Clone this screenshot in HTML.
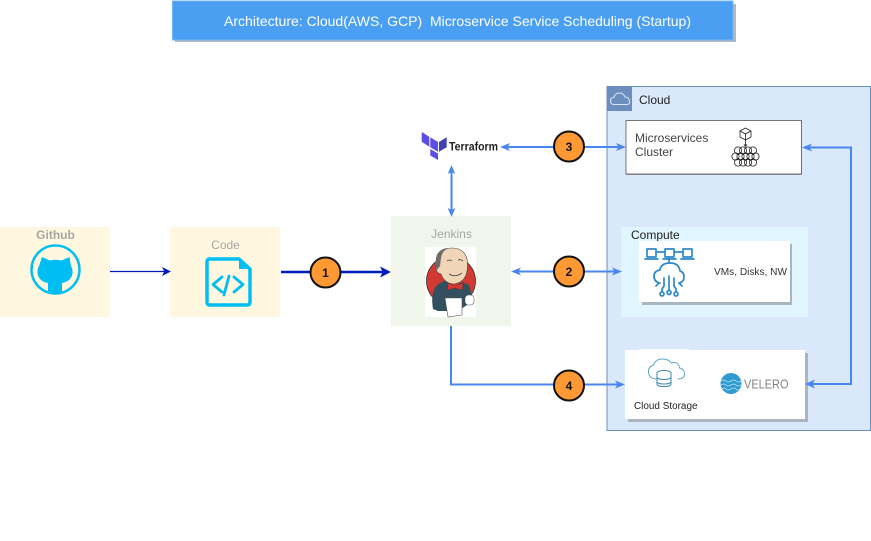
<!DOCTYPE html>
<html>
<head>
<meta charset="utf-8">
<style>
html,body{margin:0;padding:0;background:#fff;width:871px;height:541px;overflow:hidden}
svg{display:block}
text{font-family:"Liberation Sans",sans-serif}
</style>
</head>
<body>
<svg width="871" height="541" viewBox="0 0 871 541" xmlns="http://www.w3.org/2000/svg">
<rect width="871" height="541" fill="#fff"/>

<!-- Title -->
<rect x="175" y="4" width="561" height="38" fill="#b3b9bf"/>
<rect x="172.500" y="1" width="560.500" height="39" fill="#4a9ff3" stroke="#76b5f5" stroke-width="1"/>
<text x="457.500" y="26" font-size="14" fill="#fff" text-anchor="middle" textLength="467" lengthAdjust="spacingAndGlyphs" xml:space="preserve">Architecture: Cloud(AWS, GCP)  Microservice Service Scheduling (Startup)</text>

<!-- Github -->
<rect x="0" y="227" width="110" height="90" fill="#fff7e0"/>
<text x="55.500" y="239" font-size="12" font-weight="bold" fill="#a6a6a6" text-anchor="middle">Github</text>
<circle cx="55.500" cy="269.500" r="24" fill="none" stroke="#00bef2" stroke-width="2.500"/>
<path d="M42 257l8 3.500q5.500-1.500 11.500 0l8-3.500 1.500 9q2 3.500 1.500 7.500-1.500 8-10.500 9.500v10.500h-14v-10.500q-9-1.500-10.500-9.500-.5-4 1.500-7.500z" fill="#00bef2"/>

<!-- Code -->
<rect x="170" y="227" width="110" height="90" fill="#fff7e0"/>
<text x="225.500" y="249" font-size="12" fill="#a6a6a6" text-anchor="middle">Code</text>
<path d="M210 259h29l11 10v33q0 3-3 3h-37q-3 0-3-3v-40q0-3 3-3z" fill="#fff7e0" stroke="#00bef2" stroke-width="3.500" stroke-linejoin="round"/>
<path d="M239 258v11h12z" fill="#00bef2"/>
<path d="M222 277l-9 7.500 9 7.500M234 277l9 7.500-9 7.500M229 276l-5 19" fill="none" stroke="#00bef2" stroke-width="2.800" stroke-linecap="round" stroke-linejoin="round"/>

<!-- Jenkins -->
<rect x="391" y="216" width="120" height="110" fill="#f1f6ec"/>
<text x="451.500" y="238" font-size="12" fill="#a6a6a6" text-anchor="middle">Jenkins</text>
<rect x="425" y="247" width="51" height="70" fill="#fff"/>
<circle cx="451" cy="281" r="24.500" fill="#d33833" stroke="#333" stroke-width="0.800"/>
<path d="M433 309q-3-18 5-25l8-4 8 7 8-5 7 3 3 11-5 9-9 6h-20z" fill="#335061"/>
<path d="M440 258q2-10 12-10 12 0 15 11 1 6 0 12-2 12-14 13-9-1-12-10-5-1-5-6t4-6z" fill="#f0d6b7" stroke="#444" stroke-width="0.600"/>
<path d="M437 270q-3-11 1-17 4-5 10-5-6 3-7 10l-1 8z" fill="#6d6b6d"/>
<path d="M447 261q3-2 5 0M458 260q3-1 5 1M449 274q6 4 13-1" fill="none" stroke="#444" stroke-width="0.800"/>
<path d="M448 283l7 3 8-3-1 7-7-2-7 2z" fill="#d33833" stroke="#7d1f1c" stroke-width="0.400"/>
<path d="M445 298h17v17l-14 2z" fill="#fff" stroke="#555" stroke-width="0.600"/>
<rect x="465" y="295" width="9" height="10" rx="3.500" fill="#fff" stroke="#555" stroke-width="0.600"/>

<!-- Terraform -->
<path d="M421.700 132l7.600 4.700v10l-7.600-5z" fill="#5c4ee5"/>
<path d="M430.300 137.300l7.700 4.700v9.700l-7.700-4.400z" fill="#5c4ee5"/>
<path d="M439 142l7.700-4.700v10l-7.700 4.400z" fill="#4040b2"/>
<path d="M430.300 149l7.700 4.500v6.500l-7.700-4.500z" fill="#5c4ee5"/>
<text x="449" y="150.500" font-size="12" font-weight="bold" fill="#222" textLength="49" lengthAdjust="spacingAndGlyphs">Terraform</text>

<!-- Cloud -->
<rect x="607" y="86.500" width="263.500" height="344" fill="#dae8fc" stroke="#6c8ebf" stroke-width="1"/>
<rect x="607" y="86" width="25" height="25" fill="#6c8ebf"/>
<path d="M614 104.500q-3.500 0-3.500-3.500 0-3.500 3.500-3.500 1-4.500 5.500-4.500 4 0 5.500 4 4 0 4.500 4t-3.500 3.500z" fill="none" stroke="#dbe6f5" stroke-width="1"/>
<text x="639" y="104" font-size="12" fill="#222">Cloud</text>

<!-- Microservices -->
<rect x="626" y="121" width="176" height="54" rx="1" fill="#9aa0a6"/>
<rect x="626" y="120.500" width="175.500" height="53.500" fill="#fff" stroke="#555" stroke-width="0.800"/>
<text x="635" y="142" font-size="12" fill="#444">Microservices</text>
<text x="635" y="156" font-size="12" fill="#444">Cluster</text>
<g fill="none" stroke="#222" stroke-width="0.800">
<path d="M745.500 128l5.500 3v6l-5.500 3-5.500-3v-6zM740 131l5.500 3 5.500-3M745.500 134v6"/>
<path d="M745.500 140v5"/>
<circle cx="738" cy="150.500" r="3.600"/><circle cx="743" cy="150.500" r="3.600"/><circle cx="748" cy="150.500" r="3.600"/><circle cx="753" cy="150.500" r="3.600"/>
<circle cx="735.500" cy="156.500" r="3.600"/><circle cx="740.500" cy="156.500" r="3.600"/><circle cx="745.500" cy="156.500" r="3.600"/><circle cx="750.500" cy="156.500" r="3.600"/><circle cx="755.500" cy="156.500" r="3.600"/>
<circle cx="738" cy="162.500" r="3.600"/><circle cx="743" cy="162.500" r="3.600"/><circle cx="748" cy="162.500" r="3.600"/><circle cx="753" cy="162.500" r="3.600"/>
</g>
<path d="M743.500 144.500h4l-2 2.500z" fill="#222"/>

<!-- Compute -->
<rect x="621" y="227" width="187" height="90" fill="#e1f5fe"/>
<text x="631" y="239" font-size="12" fill="#222">Compute</text>
<rect x="642" y="244" width="150" height="61" fill="#a9b5bf"/>
<rect x="639" y="241" width="151" height="61" fill="#fff"/>
<g fill="none" stroke="#2f88c8" stroke-width="1.700" stroke-linejoin="round" stroke-linecap="round">
<rect x="647" y="249" width="9" height="8"/><rect x="665" y="249" width="9" height="8"/><rect x="683" y="249" width="9" height="8"/>
<path d="M645 259h13M663 259h13M681 259h13M656 252h9M674 252h9M669 258v5"/>
<path d="M660 283q-6-1-6-7 0-5 6-6 1-7 10-7 9 0 10 8 4 1 4 6 0 5-5 6"/>
<path d="M669 276v14M664 278v8l-2 3v2M674 278v8l2 3v2M659 283l-3 3M679 283l3 3"/>
<circle cx="662" cy="294" r="2"/><circle cx="669" cy="292.500" r="2"/><circle cx="676" cy="294" r="2"/>
</g>
<text x="714" y="275" font-size="10" fill="#333" textLength="73" lengthAdjust="spacingAndGlyphs">VMs, Disks, NW</text>

<!-- Storage -->
<rect x="628" y="353" width="180" height="69" fill="#a9b5bf"/>
<rect x="625" y="350" width="180" height="69" fill="#fff"/>
<rect x="639" y="349" width="50" height="2" fill="#fff"/>
<path d="M657 379q-8 0-8.500-7-.5-5 5-7 2-6 9-6 6 0 9 4 7-2 8 5 5 1 5 6 0 5-7 5" fill="none" stroke="#5fa8c4" stroke-width="1"/>
<ellipse cx="664" cy="373" rx="7" ry="2.500" fill="#fff" stroke="#3e8aa8"/>
<path d="M657 373v11q0 2.500 7 2.500t7-2.500v-11M657 377.500q1 2 7 2t7-2M657 382q1 2 7 2t7-2" fill="#fff" stroke="#3e8aa8"/>
<text x="634" y="409" font-size="10" fill="#222" textLength="63.500" lengthAdjust="spacingAndGlyphs">Cloud Storage</text>
<circle cx="731" cy="383.500" r="10.500" fill="#2e9ad0"/>
<path d="M721 381q3-2 5 0t5 0 5 0 5 0M721 385q3-2 5 0t5 0 5 0 5 0M722 389q3-2 4 0t5 0 5 0 4 0" fill="none" stroke="#bfe3f3" stroke-width="0.800"/>
<text x="744" y="388.500" font-size="13" fill="#7f8487" textLength="44.500" lengthAdjust="spacingAndGlyphs">VELERO</text>

<!-- Connectors: dark blue -->
<path d="M110 271.500H165" stroke="#001dbc" stroke-width="1.300" fill="none"/>
<path d="M171 271.500l-9 -4.500 2.200 4.500-2.200 4.500z" fill="#001dbc"/>
<path d="M281 272H384" stroke="#001dbc" stroke-width="2.500" fill="none"/>
<path d="M391 272l-11-5.500 2.700 5.500-2.700 5.500z" fill="#001dbc"/>

<!-- Connectors: light blue -->
<g fill="none" stroke="#4a86f0" stroke-width="2">
<path d="M451.500 172V211"/>
<path d="M506 147H620"/>
<path d="M516 271.500H615"/>
<path d="M451 326V384.500H618"/>
<path d="M808 147.500H851V384H812"/>
</g>
<g fill="#4a86f0">
<path d="M451.500 165l-3.800 9 3.800-2 3.800 2z"/>
<path d="M451.500 217l-3.800-9 3.800 2 3.800-2z"/>
<path d="M500 147l10-4-2.500 4 2.500 4z"/>
<path d="M626 147l-10-4 2.500 4-2.500 4z"/>
<path d="M511 271.500l10-4-2.500 4 2.500 4z"/>
<path d="M622 271.500l-10-4 2.500 4-2.500 4z"/>
<path d="M625 384.500l-10-4 2.500 4-2.500 4z"/>
<path d="M802 147.500l10-4-2.500 4 2.500 4z"/>
<path d="M805 384l10-4.500-2.500 4.500 2.500 4.500z"/>
</g>

<!-- Badges -->
<g fill="#ff9933" stroke="#111" stroke-width="2">
<circle cx="325.500" cy="272.500" r="15"/>
<circle cx="569" cy="146.500" r="15"/>
<circle cx="569" cy="271.500" r="15"/>
<circle cx="569" cy="385.500" r="15"/>
</g>
<g font-size="12" font-weight="bold" fill="#111" text-anchor="middle">
<text x="325.500" y="277">1</text>
<text x="569" y="151">3</text>
<text x="569" y="276">2</text>
<text x="569" y="390">4</text>
</g>
</svg>
</body>
</html>
